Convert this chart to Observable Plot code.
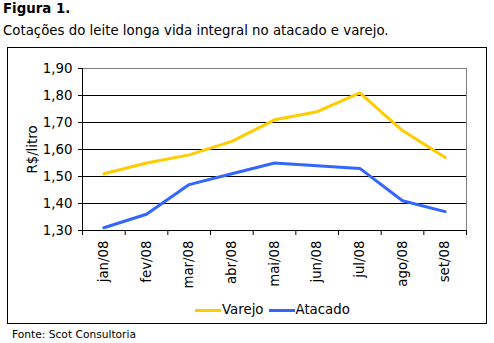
<!DOCTYPE html>
<html>
<head>
<meta charset="utf-8">
<script src="https://cdn.jsdelivr.net/npm/d3@7"></script>
<script src="https://cdn.jsdelivr.net/npm/@observablehq/plot@0.6"></script>
<style>
  body { margin: 0; background: #fff; font-family: "DejaVu Sans", Verdana, sans-serif; color: #000; }
  #wrap { position: relative; width: 494px; height: 343px; overflow: hidden; background: #fff; }
  #title { position: absolute; left: 3px; top: 1px; font-weight: bold; font-size: 13.33px; line-height: 16px; }
  #subtitle { position: absolute; left: 3px; top: 23px; font-size: 13.33px; line-height: 16px; white-space: nowrap; }
  #box { position: absolute; left: 7px; top: 47px; width: 480px; height: 277px; box-sizing: border-box; border: 1px solid #000; }
  #chart { position: absolute; left: 7px; top: 47px; }
  #legend { position: absolute; left: 195px; top: 301px; font-size: 13.33px; line-height: 18px; display: flex; align-items: center; white-space: nowrap; }
  #legend .sw { display: inline-block; width: 26px; height: 3px; margin-right: 1px; }
  #legend .item { display: flex; align-items: center; margin-right: 5px; }
  #caption { position: absolute; left: 12px; top: 328px; font-size: 10.67px; line-height: 13px; }
</style>
</head>
<body>
<div id="wrap">
  <div id="title">Figura 1.</div>
  <div id="subtitle">Cotações do leite longa vida integral no atacado e varejo.</div>
  <div id="box"></div>
  <div id="chart"></div>
  <div id="legend"></div>
  <div id="caption">Fonte: Scot Consultoria</div>
</div>
<script>
const months = ["jan/08", "fev/08", "mar/08", "abr/08", "mai/08", "jun/08", "jul/08", "ago/08", "set/08"];
const varejo = [1.51, 1.55, 1.58, 1.63, 1.71, 1.74, 1.81, 1.67, 1.57];
const atacado = [1.31, 1.36, 1.47, 1.51, 1.55, 1.54, 1.53, 1.41, 1.37];
const yTicks = [1.30, 1.40, 1.50, 1.60, 1.70, 1.80, 1.90];
const seriesNames = ["Varejo", "Atacado"];
const seriesColors = ["#FFCC00", "#3366FF"];

const data = months.map((m, i) => ({i, m, varejo: varejo[i], atacado: atacado[i]}));
const n = months.length;
const idx = d3.range(n);
const edges = d3.range(n + 1).map(k => k - 0.5);
const fmt = d => d.toFixed(2).replace(".", ",");

const chart = Plot.plot({
  width: 480,
  height: 277,
  marginLeft: 75,
  marginRight: 21,
  marginTop: 21,
  marginBottom: 94,
  style: {fontFamily: "'DejaVu Sans', Verdana, sans-serif", fontSize: "13.33px", color: "#000", background: "transparent", overflow: "visible"},
  x: {domain: [edges[0], edges[n]]},
  y: {domain: [yTicks[0], yTicks[yTicks.length - 1]]},
  marks: [
    Plot.ruleY(yTicks.slice(1, -1), {stroke: "#000", strokeWidth: 1}),
    Plot.ruleY(yTicks.slice(-1), {stroke: "#808080", strokeWidth: 1}),
    Plot.ruleX(edges.slice(-1), {stroke: "#808080", strokeWidth: 1}),
    Plot.line(data, {x: "i", y: "varejo", stroke: seriesColors[0], strokeWidth: 3}),
    Plot.line(data, {x: "i", y: "atacado", stroke: seriesColors[1], strokeWidth: 3}),
    Plot.ruleX(edges.slice(0, 1), {stroke: "#000", strokeWidth: 1}),
    Plot.ruleY(yTicks.slice(0, 1), {stroke: "#000", strokeWidth: 1}),
    Plot.axisY({ticks: yTicks, tickFormat: fmt, tickSize: 4, tickPadding: 6, label: "R$/litro", labelAnchor: "center", labelArrow: "none", labelOffset: 55}),
    Plot.axisX({ticks: edges, tickFormat: () => "", tickSize: 5, label: null}),
    Plot.axisX({ticks: idx, tickFormat: i => months[i], tickSize: 0, tickPadding: 10, tickRotate: -90, label: null})
  ]
});
document.getElementById("chart").appendChild(chart);

const legend = document.getElementById("legend");
seriesNames.forEach((name, k) => {
  const item = document.createElement("span");
  item.className = "item";
  const sw = document.createElement("span");
  sw.className = "sw";
  sw.style.background = seriesColors[k];
  item.appendChild(sw);
  item.appendChild(document.createTextNode(name));
  legend.appendChild(item);
});
</script>
</body>
</html>
